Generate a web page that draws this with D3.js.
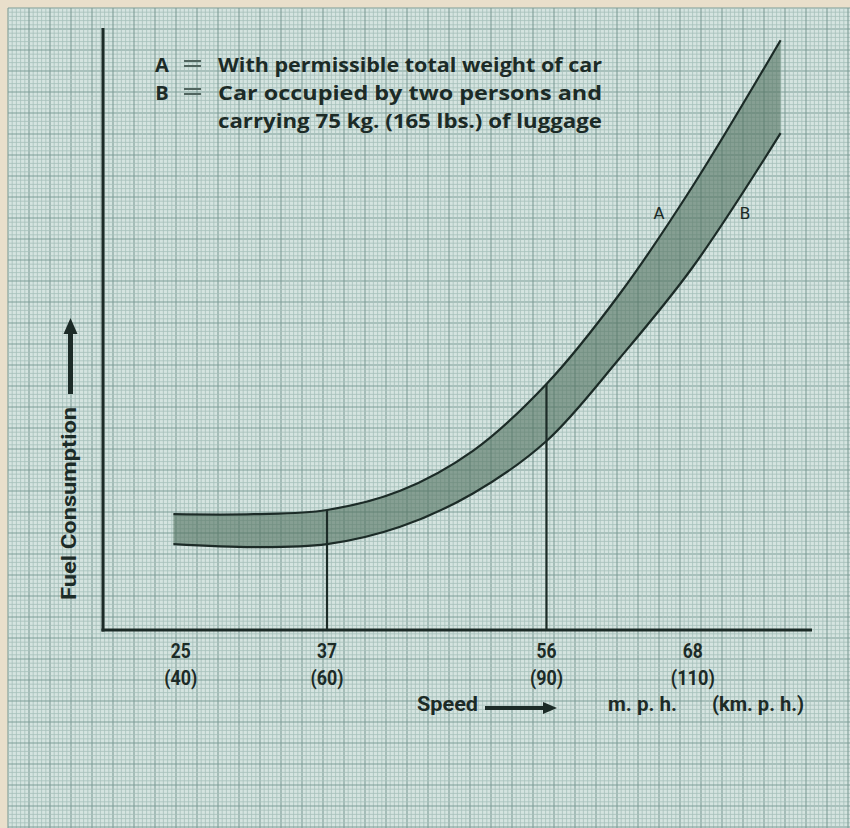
<!DOCTYPE html>
<html>
<head>
<meta charset="utf-8">
<script src="https://cdn.jsdelivr.net/npm/d3@7"></script>
<style>
  body { margin: 0; background: #e9dfcb; }
  svg { display: block; }
</style>
</head>
<body>
<script>
// data (speed in km.p.h., consumption in arbitrary units)
const speedKmh = [39, 50, 60, 70, 80, 90, 100, 110, 122];
const curveA   = [1.93, 1.93, 2.0, 2.32, 2.99, 4.1, 5.6, 7.4, 9.83];
const curveB   = [1.43, 1.38, 1.43, 1.72, 2.28, 3.15, 4.53, 6.05, 8.28];
const tickKmh  = [40, 60, 90, 110];
const tickMph  = ['25', '37', '56', '68'];
const dropKmh  = [60, 90];   // verticals drawn up to curve A
const legend = [
  ['A', 'With permissible total weight of car'],
  ['B', 'Car occupied by two persons and'],
  ['',  'carrying 75 kg. (165 lbs.) of luggage']
];

let width = 850, height = 828;
let ink = '#1c2b27';
let svg = d3.select('body').append('svg').attr('width', width).attr('height', height);

// graph paper
let paper = svg.append('g').attr('id', 'paper');
paper.append('rect').attr('x', 8).attr('y', 8).attr('width', width - 8).attr('height', height - 8).attr('fill', '#d5e4e0');
let step = 4.2;
d3.range(0, 202).forEach(i => {
  let p = 8 + i * step;
  let major = i % 5 == 0;
  let col = major ? '#7f9d97' : '#a6c0ba';
  let sw = major ? 1.1 : 0.8;
  if (p <= width) paper.append('line').attr('x1', p).attr('x2', p).attr('y1', 8).attr('y2', height).attr('stroke', col).attr('stroke-width', sw);
  if (p <= height) paper.append('line').attr('y1', p).attr('y2', p).attr('x1', 8).attr('x2', width).attr('stroke', col).attr('stroke-width', sw);
});

// scales
let x = d3.scaleLinear().domain([40, 110]).range([180.7, 692.8]);
let y = d3.scaleLinear().domain([0, 10]).range([630, 30]);

let rows = speedKmh.map((s, i) => ({s: s, a: curveA[i], b: curveB[i]}));
let crv = d3.curveCatmullRom.alpha(0.5);

// band between A and B
let area = d3.area().x(d => x(d.s)).y0(d => y(d.b)).y1(d => y(d.a)).curve(crv);
svg.append('path').datum(rows).attr('d', area).attr('fill', '#51715f').attr('fill-opacity', 0.6);

let lineA = d3.line().x(d => x(d.s)).y(d => y(d.a)).curve(crv);
let lineB = d3.line().x(d => x(d.s)).y(d => y(d.b)).curve(crv);
svg.append('path').datum(rows).attr('d', lineA).attr('fill', 'none').attr('stroke', ink).attr('stroke-width', 2.2);
svg.append('path').datum(rows).attr('d', lineB).attr('fill', 'none').attr('stroke', ink).attr('stroke-width', 2.2);

// verticals from the axis up to curve A
let interpA = s => {
  let i = d3.bisectLeft(speedKmh, s);
  if (speedKmh[i] == s) return curveA[i];
  let t = (s - speedKmh[i - 1]) / (speedKmh[i] - speedKmh[i - 1]);
  return curveA[i - 1] + t * (curveA[i] - curveA[i - 1]);
};
svg.selectAll('line.drop').data(dropKmh).join('line').attr('class', 'drop')
  .attr('x1', d => x(d)).attr('x2', d => x(d)).attr('y1', y(0)).attr('y2', d => y(interpA(d)))
  .attr('stroke', ink).attr('stroke-width', 2.2);

// axes
svg.append('line').attr('x1', 103).attr('x2', 103).attr('y1', 28).attr('y2', 631.5).attr('stroke', ink).attr('stroke-width', 3);
svg.append('line').attr('x1', 101.5).attr('x2', 812).attr('y1', y(0)).attr('y2', y(0)).attr('stroke', ink).attr('stroke-width', 3);

// tick labels (condensed, squeezed with textLength)
let tf = 'Roboto, "Liberation Sans", sans-serif';
let ticks = svg.append('g').attr('font-family', tf).attr('font-weight', 700).attr('font-size', 21).attr('text-anchor', 'middle').attr('fill', ink);
ticks.selectAll('text.mph').data(tickKmh).join('text').attr('class', 'mph')
  .attr('x', d => x(d)).attr('y', 658).attr('textLength', 20).attr('lengthAdjust', 'spacingAndGlyphs')
  .text((d, i) => tickMph[i]);
ticks.selectAll('text.kmh').data(tickKmh).join('text').attr('class', 'kmh')
  .attr('x', d => x(d)).attr('y', 685).attr('textLength', d => d >= 100 ? 44 : 33).attr('lengthAdjust', 'spacingAndGlyphs')
  .text(d => '(' + d + ')');

// x title
let xt = svg.append('g').attr('font-family', tf).attr('font-weight', 700).attr('font-size', 20).attr('fill', ink);
xt.append('text').attr('x', 417).attr('y', 711).attr('textLength', 61).attr('lengthAdjust', 'spacingAndGlyphs').text('Speed');
xt.append('text').attr('x', 608).attr('y', 711).attr('textLength', 69).attr('lengthAdjust', 'spacingAndGlyphs').text('m. p. h.');
xt.append('text').attr('x', 712).attr('y', 711).attr('textLength', 92).attr('lengthAdjust', 'spacingAndGlyphs').text('(km. p. h.)');
xt.append('rect').attr('x', 485).attr('y', 706).attr('width', 60).attr('height', 4).attr('fill', ink);
xt.append('path').attr('d', 'M543,702 L557,708 L543,714 Z').attr('fill', ink);

// y title
let yt = svg.append('g').attr('fill', ink);
yt.append('text').attr('transform', 'translate(76,600) rotate(-90)')
  .attr('font-family', tf).attr('font-weight', 700).attr('font-size', 20)
  .attr('textLength', 193).attr('lengthAdjust', 'spacingAndGlyphs').text('Fuel Consumption');
yt.append('rect').attr('x', 68).attr('y', 330).attr('width', 5).attr('height', 64);
yt.append('path').attr('d', 'M63.5,334 L70.5,318 L77.5,334 Z');

// curve names
let cn = svg.append('g').attr('font-family', '"DejaVu Sans", sans-serif').attr('font-size', 16).attr('text-anchor', 'middle').attr('fill', ink);
cn.append('text').attr('x', 659).attr('y', 219).text('A');
cn.append('text').attr('x', 745).attr('y', 219).text('B');

// legend
let lg = svg.append('g').attr('font-family', '"Open Sans", sans-serif').attr('font-weight', 700).attr('font-size', 20).attr('fill', ink);
legend.forEach((r, i) => {
  let by = 72 + i * 28;
  if (r[0] != '') {
    lg.append('text').attr('x', 162).attr('y', by).attr('text-anchor', 'middle').text(r[0]);
    lg.append('rect').attr('x', 184).attr('y', by - 12).attr('width', 17).attr('height', 2).attr('fill', '#51655f');
    lg.append('rect').attr('x', 184).attr('y', by - 7).attr('width', 17).attr('height', 2).attr('fill', '#51655f');
  }
  lg.append('text').attr('x', 218).attr('y', by).attr('textLength', 384).attr('lengthAdjust', 'spacingAndGlyphs').text(r[1]);
});
</script>
</body>
</html>
